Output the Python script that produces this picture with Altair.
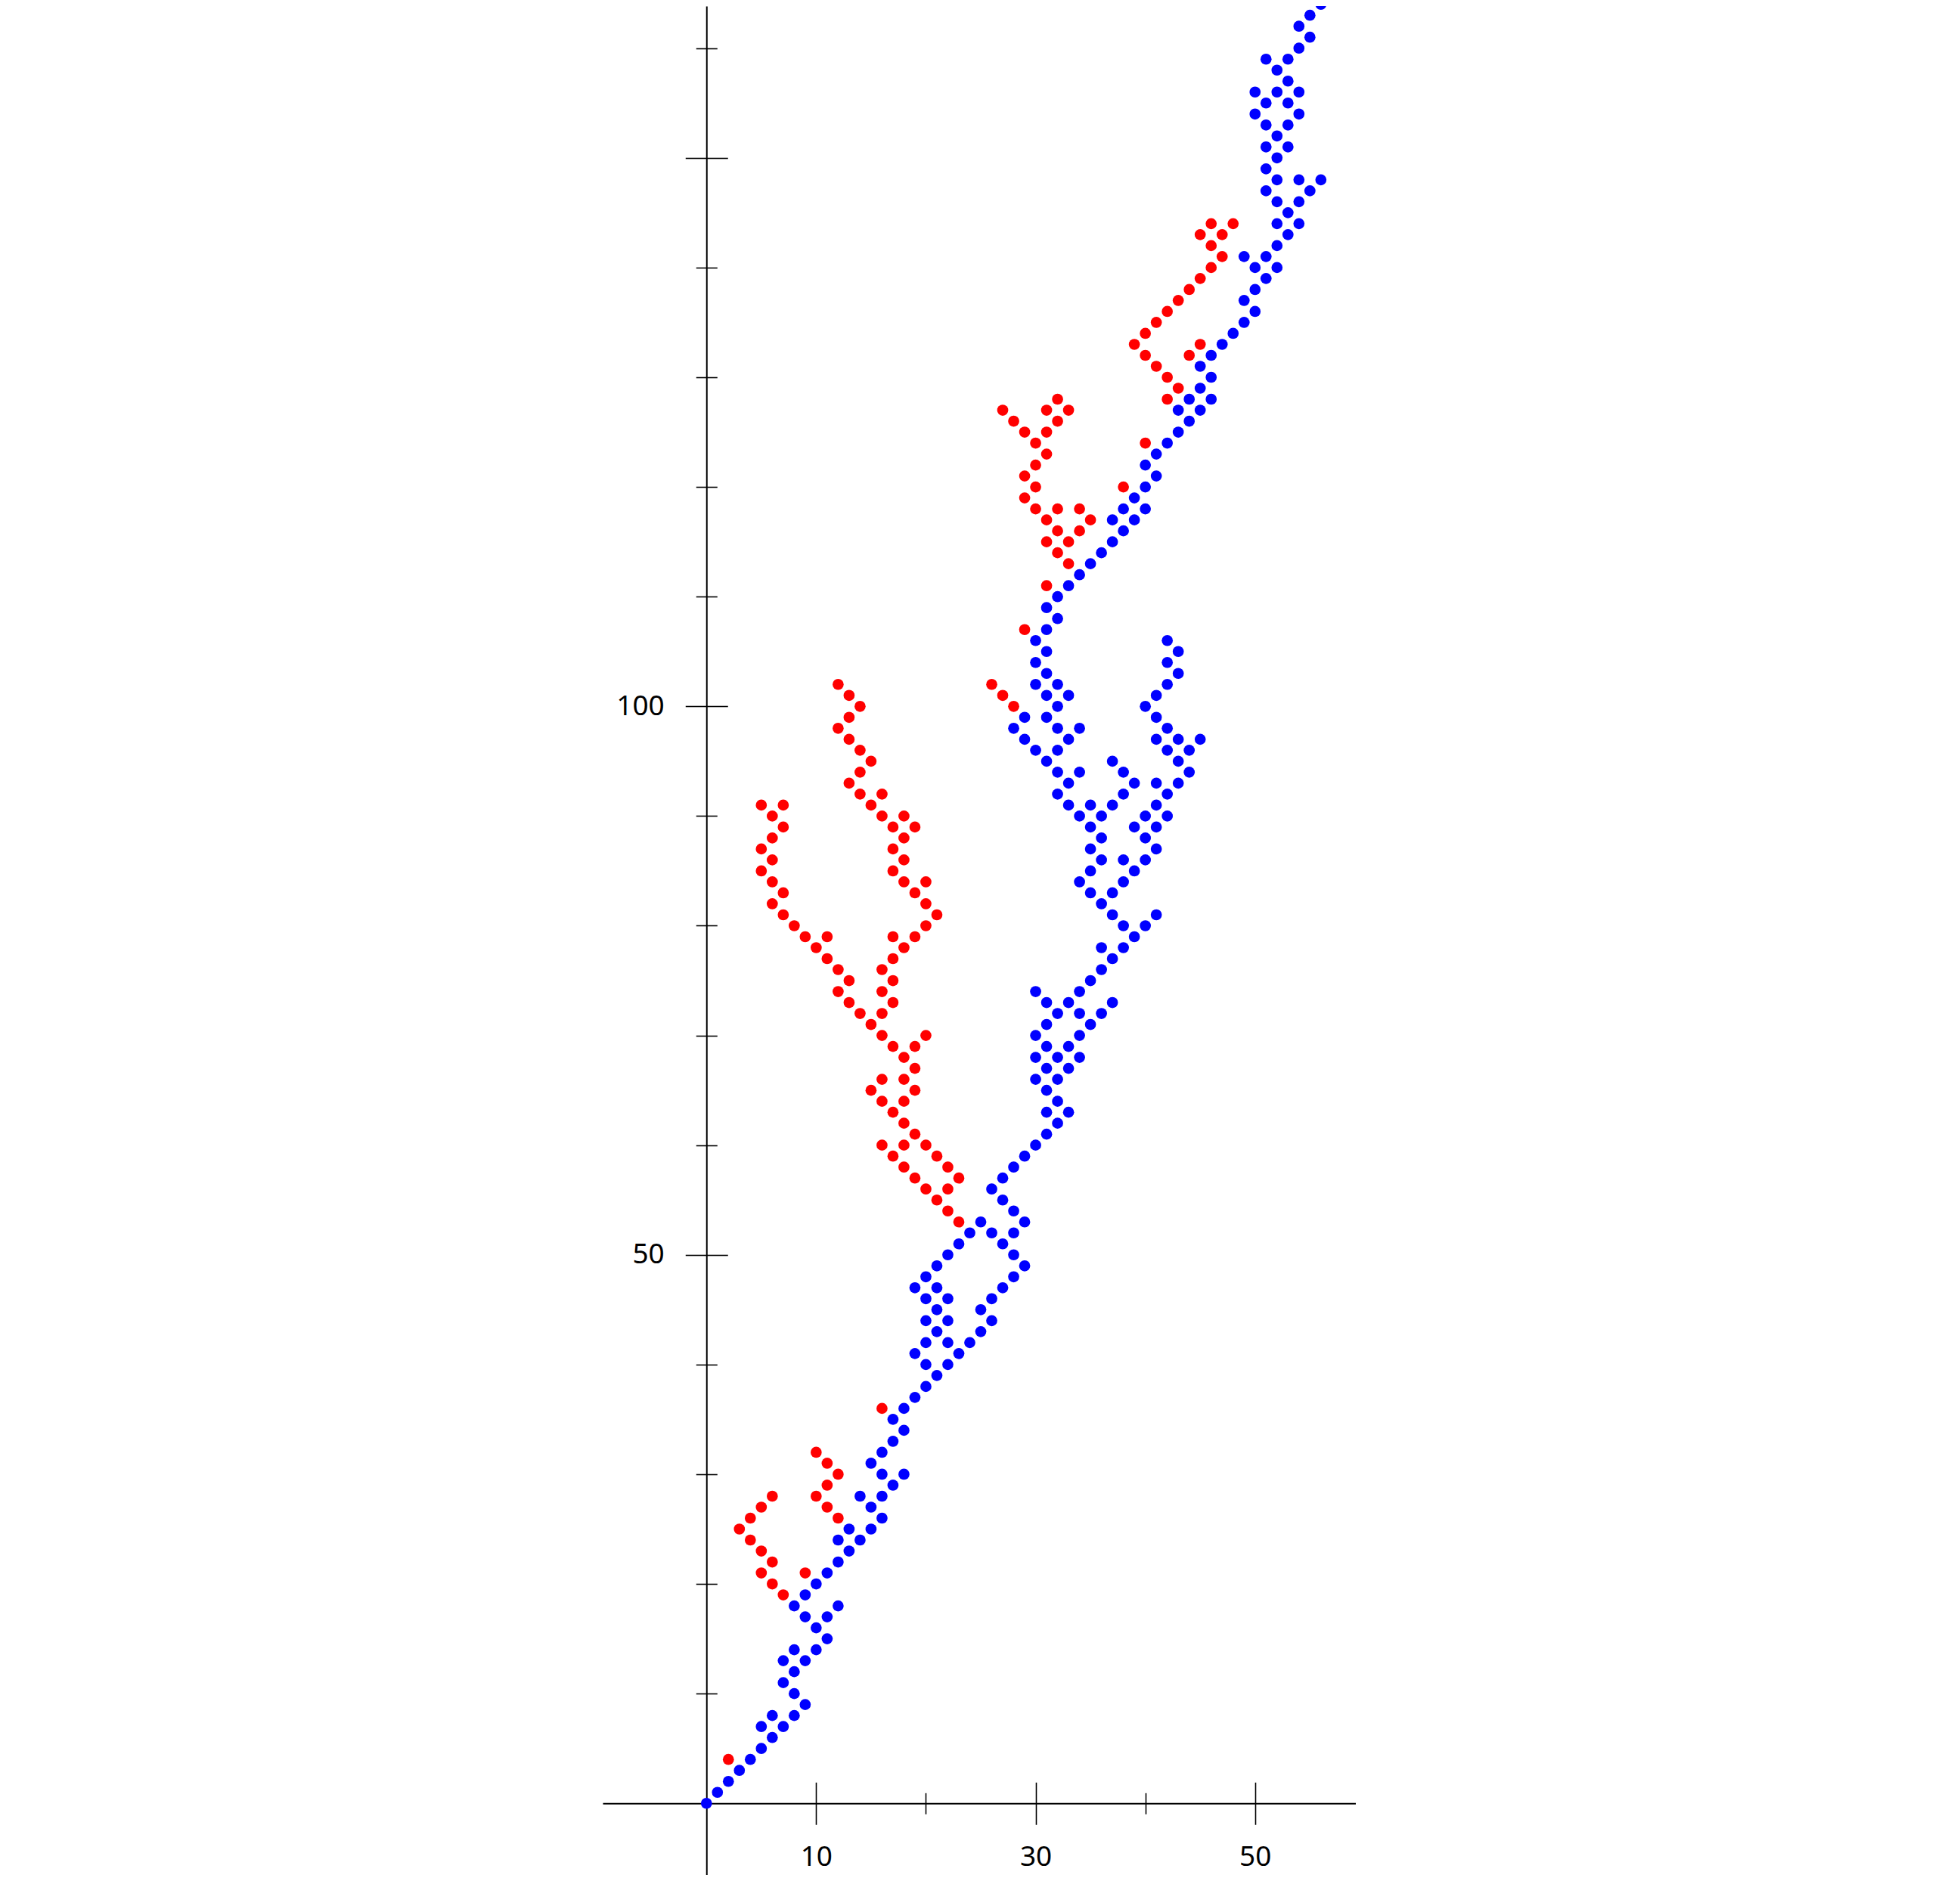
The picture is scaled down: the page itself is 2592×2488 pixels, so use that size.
import altair as alt
import pandas as pd

# ---- data: lattice points, grouped by row (y: list of x) ----
blue_rows = {
    0: [0], 1: [1], 2: [2], 3: [3], 4: [4], 5: [5], 6: [6], 7: [5, 7], 8: [6, 8], 9: [9],
    10: [8], 11: [7], 12: [8], 13: [7, 9], 14: [8, 10], 15: [11], 16: [10], 17: [9, 11],
    18: [8, 12], 19: [9], 20: [10], 21: [11], 22: [12], 23: [13], 24: [12, 14], 25: [13, 15],
    26: [16], 27: [15], 28: [14, 16], 29: [17], 30: [16, 18], 31: [15], 32: [16], 33: [17],
    34: [18], 35: [17], 36: [18], 37: [19], 38: [20], 39: [21], 40: [20, 22], 41: [19, 23],
    42: [20, 22, 24], 43: [21, 25], 44: [20, 22, 26], 45: [21, 25], 46: [20, 22, 26],
    47: [19, 21, 27], 48: [20, 28], 49: [21, 29], 50: [22, 28], 51: [23, 27], 52: [24, 26, 28],
    53: [25, 29], 54: [28], 55: [27], 56: [26], 57: [27], 58: [28], 59: [29], 60: [30],
    61: [31], 62: [32], 63: [31, 33], 64: [32], 65: [31], 66: [30, 32], 67: [31, 33],
    68: [30, 32, 34], 69: [31, 33], 70: [30, 34], 71: [31, 35], 72: [32, 34, 36],
    73: [31, 33, 37], 74: [30, 34], 75: [35], 76: [36], 77: [37], 78: [36, 38], 79: [39],
    80: [38, 40], 81: [37, 41], 82: [36], 83: [35, 37], 84: [34, 38], 85: [35, 39],
    86: [36, 38, 40], 87: [35, 41], 88: [36, 40], 89: [35, 39, 41], 90: [34, 36, 40, 42],
    91: [33, 35, 37, 41], 92: [32, 38, 42], 93: [33, 39, 41, 43], 94: [32, 34, 38, 44],
    95: [31, 37, 43], 96: [30, 32, 42, 44], 97: [29, 33, 41, 43, 45], 98: [28, 32, 34, 42],
    99: [29, 31, 41], 100: [32, 40], 101: [31, 33, 41], 102: [30, 32, 42], 103: [31, 43],
    104: [30, 42], 105: [31, 43], 106: [30, 42], 107: [31], 108: [32], 109: [31], 110: [32],
    111: [33], 112: [34], 113: [35], 114: [36], 115: [37], 116: [38], 117: [37, 39],
    118: [38, 40], 119: [39], 120: [40], 121: [41], 122: [40], 123: [41], 124: [42],
    125: [43], 126: [44], 127: [43, 45], 128: [44, 46], 129: [45], 130: [46], 131: [45],
    132: [46], 133: [47], 134: [48], 135: [49], 136: [50], 137: [49], 138: [50], 139: [51],
    140: [50, 52], 141: [49, 51], 142: [52], 143: [53], 144: [52, 54], 145: [53],
    146: [52, 54], 147: [51, 55], 148: [52, 54, 56], 149: [51], 150: [52], 151: [51, 53],
    152: [52], 153: [51, 53], 154: [50, 54], 155: [51, 53], 156: [50, 52, 54], 157: [53],
    158: [52], 159: [51, 53], 160: [54], 161: [55], 162: [54], 163: [55], 164: [56],
    165: [55, 57],
}

red_rows = {
    4: [2], 19: [7], 20: [6], 21: [5, 9], 22: [6], 23: [5], 24: [4], 25: [3], 26: [4, 12],
    27: [5, 11], 28: [6, 10], 29: [11], 30: [12], 31: [11], 32: [10], 36: [16],
    53: [23], 54: [22], 55: [21], 56: [20, 22], 57: [19, 23], 58: [18, 22], 59: [17, 21],
    60: [16, 18, 20], 61: [19], 62: [18], 63: [17], 64: [16, 18], 65: [15, 19], 66: [16, 18],
    67: [19], 68: [18], 69: [17, 19], 70: [16, 20], 71: [15], 72: [14, 16], 73: [13, 17],
    74: [12, 16], 75: [13, 17], 76: [12, 16], 77: [11, 17], 78: [10, 18], 79: [9, 11, 17, 19],
    80: [8, 20], 81: [7, 21], 82: [6, 20], 83: [7, 19], 84: [6, 18, 20], 85: [5, 17],
    86: [6, 18], 87: [5, 17], 88: [6, 18], 89: [7, 17, 19], 90: [6, 16, 18], 91: [5, 7, 15],
    92: [14, 16], 93: [13], 94: [14], 95: [15], 96: [14], 97: [13], 98: [12], 99: [13],
    100: [14, 28], 101: [13, 27], 102: [12, 26], 107: [29], 111: [31], 113: [33], 114: [32],
    115: [31, 33], 116: [32, 34], 117: [31, 35], 118: [30, 32, 34], 119: [29], 120: [30, 38],
    121: [29], 122: [30], 123: [31], 124: [30, 40], 125: [29, 31], 126: [28, 32],
    127: [27, 31, 33], 128: [32, 42], 129: [43], 130: [42], 131: [41], 132: [40, 44],
    133: [39, 45], 134: [40], 135: [41], 136: [42], 137: [43], 138: [44], 139: [45],
    140: [46], 141: [47], 142: [46], 143: [45, 47], 144: [46, 48],
}

series_names = ["blue", "red"]
series_colors = ["#0000ff", "#ff0000"]

x_major = [10, 30, 50]
x_minor = [20, 40]
y_major = [50, 100, 150]
y_minor = [v for v in range(10, 170, 10) if v % 50 != 0]

rows = []
for name, table in (("blue", blue_rows), ("red", red_rows)):
    for yy, xs in table.items():
        for xx in xs:
            rows.append({"x": xx, "y": yy, "series": name})
df = pd.DataFrame(rows)

# ---- geometry ----
X0, X1 = -9.46, 59.2
Y0, Y1 = -6.53, 163.84
PX = 14.51
W = (X1 - X0) * PX
H = 2472
LEFT_OFF = -(0 - X0) * PX          # y axis at x = 0
RIGHT_OFF = -(X1 - 0) * PX
BOTTOM_OFF = -(0 - Y0) * PX        # x axis at y = 0
TOP_OFF = -(Y1 - 0) * PX

FONT = "Noto Sans"
FS = 37
AX = dict(grid=False, title=None, tickColor="#000000", tickWidth=1.6,
          domainColor="#000000", domainWidth=2, labelColor="#000000",
          labelFont=FONT, labelFontSize=FS)

xs = alt.Scale(domain=[X0, X1], nice=False, zero=False)
ys = alt.Scale(domain=[Y0, Y1], nice=False, zero=False)


def layer(x_axis, y_axis, visible):
    mark = alt.Chart(df).mark_circle(size=216, opacity=1 if visible else 0, strokeWidth=0)
    enc = dict(
        x=alt.X("x:Q", scale=xs, axis=x_axis),
        y=alt.Y("y:Q", scale=ys, axis=y_axis),
    )
    if visible:
        enc["color"] = alt.Color("series:N",
                                 scale=alt.Scale(domain=series_names, range=series_colors),
                                 legend=None)
    return mark.encode(**enc)


main = layer(
    alt.Axis(orient="bottom", offset=BOTTOM_OFF, values=x_major, tickSize=28,
             labelPadding=25, domain=True, labelFlush=False, labelOverlap=False, **AX),
    alt.Axis(orient="left", offset=LEFT_OFF, values=y_major, tickSize=28,
             labelPadding=28, domain=True, labelFlush=False, labelOverlap=False,
             labelExpr="datum.value == 150 ? '' : datum.label", **AX),
    True,
)
major_other = layer(
    alt.Axis(orient="top", offset=TOP_OFF, values=x_major, tickSize=28,
             labels=False, domain=False, **AX),
    alt.Axis(orient="right", offset=RIGHT_OFF, values=y_major, tickSize=28,
             labels=False, domain=False, **AX),
    False,
)
minor_out = layer(
    alt.Axis(orient="bottom", offset=BOTTOM_OFF, values=x_minor, tickSize=14,
             labels=False, domain=False, **AX),
    alt.Axis(orient="left", offset=LEFT_OFF, values=y_minor, tickSize=14,
             labels=False, domain=False, **AX),
    False,
)
minor_in = layer(
    alt.Axis(orient="top", offset=TOP_OFF, values=x_minor, tickSize=14,
             labels=False, domain=False, **AX),
    alt.Axis(orient="right", offset=RIGHT_OFF, values=y_minor, tickSize=14,
             labels=False, domain=False, **AX),
    False,
)

chart = (
    alt.layer(minor_out, minor_in, major_other, main)
    .resolve_scale(x="independent", y="independent")
    .properties(width=W, height=H, autosize=alt.AutoSizeParams(type="none"),
                padding={"left": 789, "top": 0, "right": 0, "bottom": 0},
                background="#ffffff")
    .configure_view(strokeWidth=0)
)

chart.save("out.html", embed_options={"renderer": "svg", "actions": False})
